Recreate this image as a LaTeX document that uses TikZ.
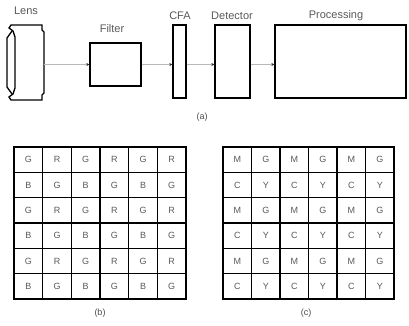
\documentclass[tikz,border=0pt]{standalone}
\usepackage{fontspec}
\setmainfont{Liberation Sans}
\usetikzlibrary{arrows.meta}
\begin{document}
\begin{tikzpicture}[x=1pt,y=-1pt,
  blk/.style={draw=black,line width=1.4pt,inner sep=0pt},
  lbl/.style={text=black!65,font=\fontsize{11}{12}\selectfont,inner sep=0pt},
  captxt/.style={text=black!70,font=\fontsize{9}{10}\selectfont,inner sep=0pt},
  cell/.style={inner sep=0pt,minimum width=28.5pt,minimum height=25.333pt,text=black!65,font=\fontsize{9}{10}\selectfont},
  gridline/.style={draw=black,line width=1.4pt,line cap=rect},
  conn/.style={draw=black!28,line width=1.4pt,-{Stealth[length=3pt,width=3pt,black!80]}}]
\useasboundingbox (0,0) rectangle (409,326);
% Lens
\draw[line width=1.3pt,line join=miter]
  (11,25) -- (42,25) -- (42,30) -- (44,32) -- (44,93) -- (42,95) -- (42,100) -- (11,100) -- (9,97) -- (13,94) -- (15,88) -- (15,37) -- (13,31) -- (9,28) -- cycle;
\draw[line width=1.3pt,line join=miter] (12,31) -- (7,38) -- (7,87) -- (12,94);
\coordinate (lens) at (44,64.5);
\node[lbl] (lenslbl) at (26,11) {Lens};
% Blocks
\node[blk,minimum width=51pt,minimum height=43pt] (filter) at (115.5,64.5) {};
\node[blk,minimum width=13pt,minimum height=73pt] (cfa) at (179.5,61.5) {};
\node[blk,minimum width=35pt,minimum height=73pt] (det) at (232.5,61.5) {};
\node[blk,minimum width=131pt,minimum height=73pt] (proc) at (340.5,61.5) {};
\node[lbl] (filterlbl) at (112,29) {Filter};
\node[lbl] (cfalbl) at (180,16) {CFA};
\node[lbl] (detlbl) at (232,16) {Detector};
\node[lbl] (proclbl) at (336,16) {Processing};
\node[captxt] (capa) at (202,117) {(a)};
% Connectors
\draw[conn] (lens) -- (filter.west);
\draw[conn] (filter.east) -- (filter.east -| cfa.west);
\draw[conn] (filter.east -| cfa.east) -- (filter.east -| det.west);
\draw[conn] (filter.east -| det.east) -- (filter.east -| proc.west);
% Grid (b)
\foreach \r in {1,...,6}{\foreach \c in {1,...,6}{
  \pgfmathtruncatemacro\ro{mod(\r,2)}
  \pgfmathtruncatemacro\co{mod(\c,2)}
  \ifnum\ro=1 \ifnum\co=1 \def\L{G}\else\def\L{R}\fi\else\ifnum\co=1 \def\L{B}\else\def\L{G}\fi\fi
  \node[cell] (b-\r-\c) at ({14+(\c-0.5)*28.667},{147+(\r-0.5)*25.333}) {\L};
}}
\foreach \i in {0,...,6}{
  \draw[gridline] ({14+\i*28.667},147) -- ({14+\i*28.667},299);
  \draw[gridline] (14,{147+\i*25.333}) -- (186,{147+\i*25.333});
}
% Grid (c)
\foreach \r in {1,...,6}{\foreach \c in {1,...,6}{
  \pgfmathtruncatemacro\ro{mod(\r,2)}
  \pgfmathtruncatemacro\co{mod(\c,2)}
  \ifnum\ro=1 \ifnum\co=1 \def\L{M}\else\def\L{G}\fi\else\ifnum\co=1 \def\L{C}\else\def\L{Y}\fi\fi
  \node[cell] (c-\r-\c) at ({223+(\c-0.5)*28.5},{147+(\r-0.5)*25.333}) {\L};
}}
\foreach \i in {0,...,6}{
  \draw[gridline] ({223+\i*28.5},147) -- ({223+\i*28.5},299);
  \draw[gridline] (223,{147+\i*25.333}) -- (394,{147+\i*25.333});
}
\node[captxt] (capb) at (100,313) {(b)};
\node[captxt] (capc) at (306,313) {(c)};
\end{tikzpicture}
\end{document}
